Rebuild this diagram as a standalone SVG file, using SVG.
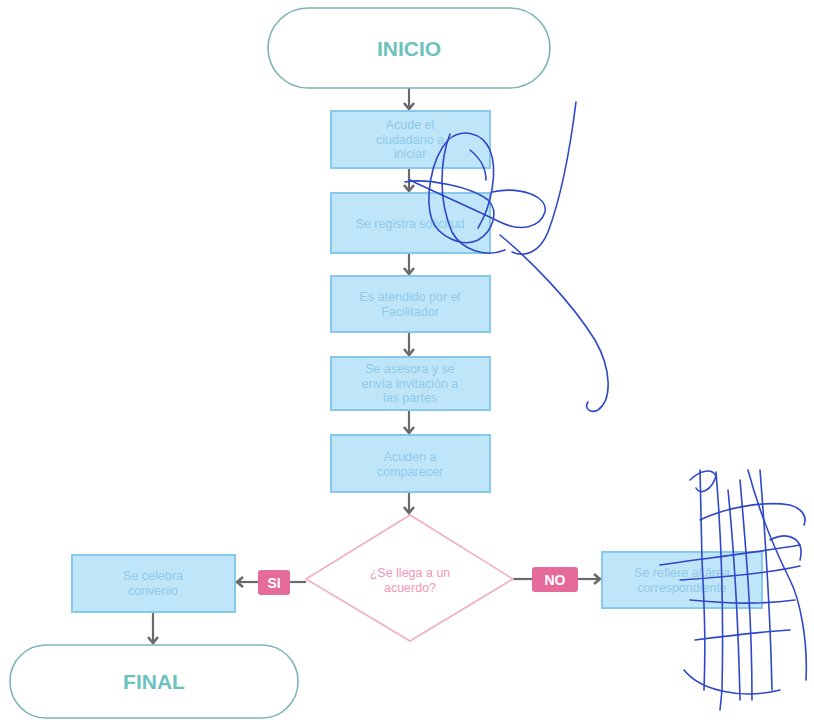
<svg xmlns="http://www.w3.org/2000/svg" width="814" height="728" viewBox="0 0 814 728">
  <style>
    .pill { fill: #ffffff; stroke: #7fb3b5; stroke-width: 1.6; }
    .pill-text { font-family: "Liberation Sans", Arial, sans-serif; font-size: 21px; font-weight: bold; fill: #6cc2bd; text-anchor: middle; }
    .box { fill: #bfe5f8; stroke: #86c9ec; stroke-width: 2; }
    .box-text { font-family: "Liberation Sans", Arial, sans-serif; font-size: 12.5px; fill: #8fcaea; text-anchor: middle; }
    .diamond { fill: #ffffff; stroke: #f2aec2; stroke-width: 1.6; }
    .diamond-text { font-family: "Liberation Sans", Arial, sans-serif; font-size: 12.5px; fill: #f296b6; text-anchor: middle; }
    .tag { fill: #e56b9b; }
    .tag-text { font-family: "Liberation Sans", Arial, sans-serif; font-size: 14px; font-weight: bold; fill: #ffffff; text-anchor: middle; }
    .conn { stroke: #6a6a6a; stroke-width: 2.2; fill: none; }
    .ink { fill: none; stroke: #2f47c8; stroke-width: 1.6; stroke-linecap: round; stroke-linejoin: round; }
  </style>
  <defs>
    <!-- chevron arrowhead, drawn pointing along +x -->
    <marker id="head" viewBox="0 0 12 12" refX="10" refY="6" markerWidth="12" markerHeight="12" markerUnits="userSpaceOnUse" orient="auto">
      <path d="M4,1 L10,6 L4,11" fill="none" stroke="#6a6a6a" stroke-width="2.6"/>
    </marker>
  </defs>

  <!-- connectors -->
  <g id="connectors">
    <line class="conn" x1="409" y1="88" x2="409" y2="109" marker-end="url(#head)"/>
    <line class="conn" x1="409" y1="168" x2="409" y2="191" marker-end="url(#head)"/>
    <line class="conn" x1="409" y1="253" x2="409" y2="274" marker-end="url(#head)"/>
    <line class="conn" x1="409" y1="332" x2="409" y2="355" marker-end="url(#head)"/>
    <line class="conn" x1="409" y1="410" x2="409" y2="433" marker-end="url(#head)"/>
    <line class="conn" x1="409" y1="492" x2="409" y2="513" marker-end="url(#head)"/>
    <line class="conn" x1="306" y1="582" x2="290" y2="582"/>
    <line class="conn" x1="258" y1="582" x2="237" y2="582" marker-end="url(#head)"/>
    <line class="conn" x1="513" y1="579" x2="532" y2="579"/>
    <line class="conn" x1="578" y1="579" x2="600" y2="579" marker-end="url(#head)"/>
    <line class="conn" x1="153" y1="612" x2="153" y2="643" marker-end="url(#head)"/>
  </g>

  <!-- nodes -->
  <g id="inicio">
    <rect class="pill" x="268" y="8" width="282" height="80" rx="40"/>
    <text class="pill-text" x="409" y="56">INICIO</text>
  </g>
  <g id="paso1">
    <rect class="box" x="331" y="111" width="159" height="57"/>
    <text class="box-text" x="410" y="129">Acude el</text>
    <text class="box-text" x="410" y="143.5">ciudadano a</text>
    <text class="box-text" x="410" y="158">iniciar</text>
  </g>
  <g id="paso2">
    <rect class="box" x="331" y="193" width="159" height="60"/>
    <text class="box-text" x="410" y="228">Se registra solicitud</text>
  </g>
  <g id="paso3">
    <rect class="box" x="331" y="276" width="159" height="56"/>
    <text class="box-text" x="410" y="301">Es atendido por el</text>
    <text class="box-text" x="410" y="315.5">Facilitador</text>
  </g>
  <g id="paso4">
    <rect class="box" x="331" y="357" width="159" height="53"/>
    <text class="box-text" x="410" y="373">Se asesora y se</text>
    <text class="box-text" x="410" y="387.5">envía invitación a</text>
    <text class="box-text" x="410" y="402">las partes</text>
  </g>
  <g id="paso5">
    <rect class="box" x="331" y="435" width="159" height="57"/>
    <text class="box-text" x="410" y="461">Acuden a</text>
    <text class="box-text" x="410" y="475.5">comparecer</text>
  </g>
  <g id="decision">
    <polygon class="diamond" points="410,515 513,579 410,641 306,579"/>
    <text class="diamond-text" x="410" y="577">¿Se llega a un</text>
    <text class="diamond-text" x="410" y="591.5">acuerdo?</text>
  </g>
  <g id="tag-si">
    <rect class="tag" x="258" y="570" width="32" height="25" rx="3"/>
    <text class="tag-text" x="274" y="588">SI</text>
  </g>
  <g id="tag-no">
    <rect class="tag" x="532" y="567" width="46" height="25" rx="3"/>
    <text class="tag-text" x="555" y="585">NO</text>
  </g>
  <g id="convenio">
    <rect class="box" x="72" y="555" width="163" height="57"/>
    <text class="box-text" x="153" y="580">Se celebra</text>
    <text class="box-text" x="153" y="594.5">convenio</text>
  </g>
  <g id="canaliza">
    <rect class="box" x="602" y="552" width="160" height="56"/>
    <text class="box-text" x="682" y="577">Se refiere al área</text>
    <text class="box-text" x="682" y="591.5">correspondiente</text>
  </g>
  <g id="final">
    <rect class="pill" x="10" y="645" width="288" height="73" rx="36"/>
    <text class="pill-text" x="154" y="689">FINAL</text>
  </g>

  <!-- handwritten ink strokes over the chart -->
  <g id="firma-1">
    <path class="ink" d="M405,182 C425,178 470,186 488,200 C500,212 492,232 478,240 C462,248 438,236 432,220 C425,200 430,160 448,140 C462,128 482,132 490,150 C498,170 492,205 478,228"/>
    <path class="ink" d="M410,180 C430,190 465,205 500,222 C520,232 540,228 545,212 C548,196 520,186 492,192"/>
    <path class="ink" d="M450,134 C440,160 438,200 452,232 C462,250 485,258 505,250"/>
    <path class="ink" d="M576,102 C570,150 560,200 548,232 C540,252 525,258 512,252"/>
    <path class="ink" d="M500,235 C530,260 570,300 595,340 C612,370 612,400 598,410 C590,414 584,408 588,402"/>
    <path class="ink" d="M470,150 C480,158 486,168 486,180"/>
  </g>
  <g id="firma-2">
    <path class="ink" d="M700,470 L702,560 C704,600 706,640 704,690"/>
    <path class="ink" d="M716,472 C720,520 724,600 722,690 L720,710"/>
    <path class="ink" d="M740,480 C745,540 752,610 752,700"/>
    <path class="ink" d="M760,470 C764,520 770,600 772,690"/>
    <path class="ink" d="M728,490 C733,540 738,610 740,700"/>
    <path class="ink" d="M660,565 C690,560 740,555 800,545"/>
    <path class="ink" d="M680,580 C710,578 760,575 800,566"/>
    <path class="ink" d="M700,520 C720,510 760,500 790,505 C800,508 808,515 804,525"/>
    <path class="ink" d="M690,600 C720,603 760,605 795,600"/>
    <path class="ink" d="M695,640 C725,636 760,632 790,630"/>
    <path class="ink" d="M690,480 C700,470 712,468 716,476 C712,490 700,496 696,488"/>
    <path class="ink" d="M748,470 C756,500 770,540 790,580 C800,600 808,640 806,680"/>
    <path class="ink" d="M684,670 C700,690 740,700 780,690"/>
    <path class="ink" d="M770,540 C790,530 805,540 800,560"/>
  </g>
</svg>
